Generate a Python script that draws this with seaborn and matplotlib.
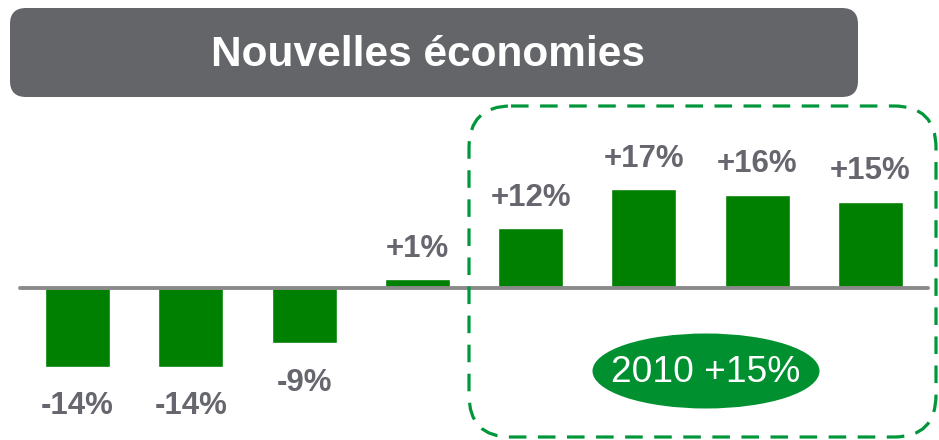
import matplotlib
matplotlib.use("Agg")
import matplotlib.pyplot as plt
import seaborn as sns
import pandas as pd
from matplotlib.patches import FancyBboxPatch, Ellipse

# ---- data ----
categories = ["c1", "c2", "c3", "c4", "c5", "c6", "c7", "c8"]
values = [-13.7, -13.7, -9.6, 1.5, 10.4, 17.2, 16.2, 15.0]
labels = ["-14%", "-14%", "-9%", "+1%", "+12%", "+17%", "+16%", "+15%"]
title = "Nouvelles économies"
badge = "2010 +15%"

sns.set_theme(style="white")
plt.rcParams["font.family"] = ["Liberation Sans", "DejaVu Sans"]

W, H = 939, 440
fig = plt.figure(figsize=(W / 100, H / 100), dpi=100)
ax = fig.add_axes([0, 0, 1, 1])

df = pd.DataFrame({"cat": categories, "val": values})
sns.barplot(data=df, x="cat", y="val", color="#008000", saturation=1,
            width=0.574, ax=ax, zorder=2)

ax.set_xlim(-0.684, 7.604)
ax.set_ylim(-26.43, 50.09)
ax.axis("off")

# zero line
ax.plot([-0.507, 7.506], [0, 0], color="#8a8a8a", lw=2.8,
        solid_capstyle="round", zorder=3)

for i, (v, lab) in enumerate(zip(values, labels)):
    if v >= 0:
        ax.annotate(lab, (i, v), xytext=(0, 22), textcoords="offset points",
                    ha="center", va="center", fontsize=22.5, fontweight="bold",
                    color="#66666e")
    else:
        ax.annotate(lab, (i, v), xytext=(0, -28.5), textcoords="offset points",
                    ha="center", va="center", fontsize=22.5, fontweight="bold",
                    color="#66666e")

# overlay for decorations, pixel coords
ov = fig.add_axes([0, 0, 1, 1], facecolor="none")
ov.set_xlim(0, W)
ov.set_ylim(H, 0)
ov.axis("off")

tb = FancyBboxPatch((10, 8), 848, 89, boxstyle="round,pad=0,rounding_size=16",
                    fc="#646569", ec="none")
ov.add_patch(tb)
ov.text(428, 55, title, ha="center", va="center", color="white",
        fontsize=30.5, fontweight="bold")

db = FancyBboxPatch((469, 106), 467, 331, boxstyle="round,pad=0,rounding_size=42",
                    fc="none", ec="#00963a", lw=2.3, linestyle=(0, (5.5, 3.6)))
ov.add_patch(db)

el = Ellipse((706, 371), 227, 75, fc="#009030", ec="none")
ov.add_patch(el)
ov.text(706, 373, badge, ha="center", va="center", color="white", fontsize=26.7)

fig.savefig("out.png", dpi=100)
